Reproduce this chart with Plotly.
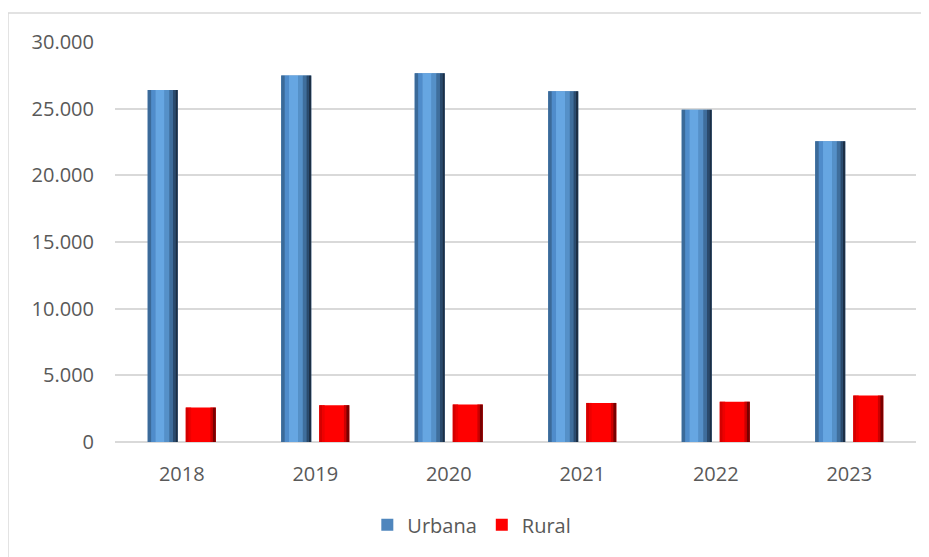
import plotly.graph_objects as go

years = ["2018", "2019", "2020", "2021", "2022", "2023"]
urbana = [26400, 27480, 27650, 26300, 24920, 22550]
rural = [2580, 2760, 2810, 2930, 3020, 3480]

FONT = "Open Sans"
TXT = "#595959"

fig = go.Figure()

def striped(name, values, left, width, stripes, legend_color):
    # stripes: list of (fraction_start, fraction_width, color)
    first = True
    for fs, fw, col in stripes:
        fig.add_trace(go.Bar(
            x=years, y=values, name=name, legendgroup=name,
            showlegend=first,
            offset=left + fs * width, width=fw * width,
            marker=dict(color=col if not first else legend_color, line=dict(width=0)),
            hoverinfo="skip" if not first else None,
        ))
        first = False

u_stripes = [
    (0.00, 1.00, "#4f86bd"),
    (0.00, 0.12, "#3b6a99"),
    (0.12, 0.14, "#4f8ccb"),
    (0.26, 0.30, "#66a6e2"),
    (0.56, 0.16, "#5590c8"),
    (0.72, 0.12, "#3f6e9c"),
    (0.84, 0.08, "#2a4a6c"),
    (0.92, 0.08, "#1c2f45"),
]
r_stripes = [
    (0.00, 1.00, "#ff0000"),
    (0.00, 0.10, "#d40000"),
    (0.10, 0.08, "#ee0000"),
    (0.82, 0.08, "#cc0000"),
    (0.90, 0.10, "#7a0000"),
]

striped("Urbana", urbana, -0.255, 0.225, u_stripes, "#4f86bd")
striped("Rural", rural, 0.03, 0.225, r_stripes, "#ff0000")

fig.update_layout(
    width=929, height=557,
    margin=dict(l=107, r=21, t=34, b=123),
    paper_bgcolor="white", plot_bgcolor="white",
    barmode="overlay",
    separators=",.",
    font=dict(family=FONT, size=20, color=TXT),
    showlegend=True,
    legend=dict(orientation="h", x=0.315, xanchor="left", y=-0.207, yanchor="middle",
                font=dict(family=FONT, size=20, color=TXT), itemsizing="constant",
                traceorder="normal"),
    xaxis=dict(type="category", showgrid=False, showline=False, ticks="",
               ticklabelstandoff=18, tickfont=dict(size=20, color=TXT)),
    yaxis=dict(range=[0, 30000], tick0=0, dtick=5000, tickformat=",d",
               showgrid=True, gridcolor="#d9d9d9", gridwidth=1.5,
               zeroline=True, zerolinecolor="#d9d9d9", zerolinewidth=1.5,
               showline=False, ticks="", ticklabelstandoff=20,
               tickfont=dict(size=20, color=TXT)),
    shapes=[
        dict(type="line", xref="paper", yref="paper", x0=-0.1336, x1=1.05, y0=1.0725, y1=1.0725,
             line=dict(color="#d9d9d9", width=1.5)),
        dict(type="line", xref="paper", yref="paper", x0=-0.1336, x1=-0.1336, y0=1.0725, y1=-0.35,
             line=dict(color="#d9d9d9", width=1.5)),
    ],
)

fig.write_html("out.html")
